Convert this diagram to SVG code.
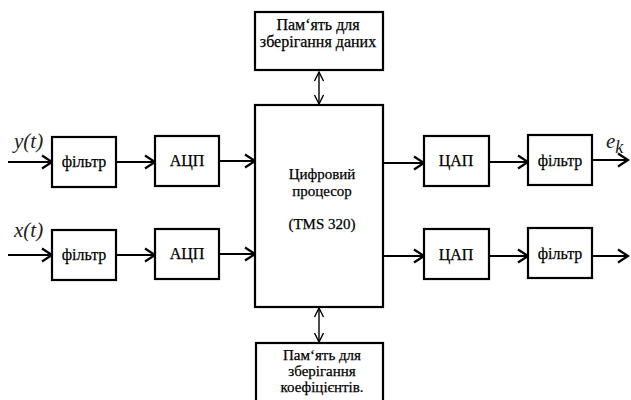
<svg xmlns="http://www.w3.org/2000/svg" width="631" height="400" viewBox="0 0 631 400">
<style>
.box{fill:#fff;stroke:#000;stroke-width:2.2}
.t{font-family:"Liberation Serif","DejaVu Serif",serif;font-size:16px;fill:#000;text-anchor:middle;stroke:#000;stroke-width:0.25}
.s{font-size:15px}
.m{font-family:"Liberation Serif","DejaVu Serif",serif;font-style:italic;font-size:21px;fill:#222}
.c{fill:none;stroke:#000;stroke-width:2}
.d{fill:none;stroke:#000;stroke-width:1.4}
</style>
<defs>
<marker id="ah" markerUnits="userSpaceOnUse" markerWidth="14" markerHeight="16" refX="11" refY="8" orient="auto">
<path d="M1,1.5 L11,8 L1,14.5" fill="none" stroke="#000" stroke-width="2.2"/>
</marker>
<marker id="dh" markerUnits="userSpaceOnUse" markerWidth="12" markerHeight="12" refX="10" refY="6" orient="auto-start-reverse">
<path d="M1,1.5 L10,6 L1,10.5" fill="none" stroke="#000" stroke-width="1.4"/>
</marker>
</defs>
<rect width="631" height="400" fill="#fff"/>
<g id="connectors">
<line class="c" x1="8" y1="162" x2="52" y2="162" marker-end="url(#ah)"/>
<line class="c" x1="116" y1="162" x2="155" y2="162" marker-end="url(#ah)"/>
<line class="c" x1="219" y1="161" x2="255" y2="161" marker-end="url(#ah)"/>
<line class="c" x1="383" y1="163" x2="424" y2="163" marker-end="url(#ah)"/>
<line class="c" x1="489" y1="162" x2="528" y2="162" marker-end="url(#ah)"/>
<line class="c" x1="592" y1="160" x2="628" y2="160" marker-end="url(#ah)"/>
<line class="c" x1="8" y1="255" x2="52" y2="255" marker-end="url(#ah)"/>
<line class="c" x1="116" y1="255" x2="155" y2="255" marker-end="url(#ah)"/>
<line class="c" x1="219" y1="254" x2="255" y2="254" marker-end="url(#ah)"/>
<line class="c" x1="383" y1="256" x2="424" y2="256" marker-end="url(#ah)"/>
<line class="c" x1="489" y1="256" x2="528" y2="256" marker-end="url(#ah)"/>
<line class="c" x1="592" y1="256" x2="628" y2="256" marker-end="url(#ah)"/>
<line class="d" x1="319" y1="72" x2="319" y2="104" marker-start="url(#dh)" marker-end="url(#dh)"/>
<line class="d" x1="319" y1="308" x2="319" y2="342" marker-start="url(#dh)" marker-end="url(#dh)"/>
</g>
<g id="label-y"><text class="m" x="14" y="148">y(t)</text></g>
<g id="label-x"><text class="m" x="14" y="237">x(t)</text></g>
<g id="label-e"><text class="m" x="606" y="148" font-size="25">e<tspan font-size="18" dy="5">k</tspan></text></g>
<g id="filter1"><rect class="box" x="52" y="137" width="64" height="50"/><text class="t" x="84" y="167">фільтр</text></g>
<g id="adc1"><rect class="box" x="155" y="136" width="64" height="50"/><text class="t" x="187" y="166">АЦП</text></g>
<g id="filter2"><rect class="box" x="52" y="230" width="64" height="50"/><text class="t" x="84" y="260">фільтр</text></g>
<g id="adc2"><rect class="box" x="155" y="229" width="64" height="50"/><text class="t" x="187" y="259">АЦП</text></g>
<g id="processor"><rect class="box" x="255" y="105" width="128" height="202"/>
<text class="t s" x="322" y="179">Цифровий</text>
<text class="t s" x="322" y="196">процесор</text>
<text class="t s" x="322" y="229">(TMS 320)</text></g>
<g id="mem-data"><rect class="box" x="255" y="12" width="128" height="58"/>
<text class="t" x="318" y="30">Пам‘ять для</text>
<text class="t" x="318" y="47">зберігання даних</text></g>
<g id="mem-coef"><rect class="box" x="256" y="343" width="127" height="60"/>
<text class="t s" x="322" y="360">Пам‘ять для</text>
<text class="t s" x="322" y="376">зберігання</text>
<text class="t s" x="322" y="392">коефіцієнтів.</text></g>
<g id="dac1"><rect class="box" x="424" y="136" width="65" height="50"/><text class="t" x="456" y="166">ЦАП</text></g>
<g id="filter3"><rect class="box" x="528" y="135" width="64" height="50"/><text class="t" x="560" y="166">фільтр</text></g>
<g id="dac2"><rect class="box" x="424" y="229" width="65" height="50"/><text class="t" x="456" y="260">ЦАП</text></g>
<g id="filter4"><rect class="box" x="528" y="228" width="64" height="50"/><text class="t" x="560" y="259">фільтр</text></g>
</svg>
